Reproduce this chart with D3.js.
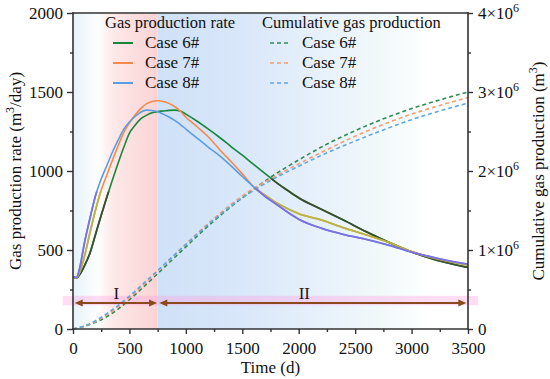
<!DOCTYPE html>
<html>
<head>
<meta charset="utf-8">
<script src="https://cdn.jsdelivr.net/npm/d3@7"></script>
<style>
body { margin: 0; background: #fff; }
svg { display: block; }
</style>
</head>
<body>
<svg id="chart" width="550" height="379"></svg>
<script>
// rate curves, m3/day
const rateDays = [0, 30, 60, 100, 150, 200, 250, 300, 350, 400, 450, 500, 550, 600, 650, 700, 750, 800, 850, 900,
    950, 1000, 1100, 1200, 1300, 1400, 1500, 1600, 1700, 1800, 1900, 2000, 2200, 2400, 2600, 2800, 3000, 3200, 3400, 3500];
const rateCase6 = [330, 322, 345, 398, 480, 600, 720, 835, 945, 1050, 1150, 1240, 1290, 1330, 1352, 1368, 1376, 1380, 1384, 1385,
    1380, 1360, 1315, 1265, 1212, 1155, 1100, 1042, 985, 928, 878, 830, 758, 688, 615, 548, 488, 440, 405, 390];
const rateCase7 = [330, 322, 360, 455, 610, 755, 880, 975, 1070, 1160, 1245, 1305, 1355, 1395, 1425, 1440, 1445, 1440, 1428, 1408,
    1380, 1340, 1280, 1215, 1135, 1060, 982, 900, 848, 800, 762, 730, 690, 640, 595, 548, 490, 448, 418, 405];
const rateCase8 = [330, 325, 388, 540, 700, 845, 950, 1035, 1120, 1195, 1265, 1310, 1345, 1372, 1385, 1383, 1375, 1360, 1342, 1320,
    1295, 1265, 1208, 1150, 1095, 1032, 965, 900, 840, 790, 740, 695, 638, 598, 567, 530, 487, 452, 422, 411];

// cumulative production, m3
const cumDays = [0, 100, 200, 300, 400, 500, 600, 750, 900, 1000, 1250, 1500, 1750, 2000, 2250, 2500, 2750, 3000, 3250, 3500];
const cumCase6 = [0, 34e3, 85e3, 157e3, 252e3, 370e3, 500e3, 700e3, 905e3, 1.04e6, 1.37e6, 1.66e6, 1.92e6, 2.14e6, 2.34e6, 2.51e6, 2.66e6, 2.79e6, 2.90e6, 3.0e6];
const cumCase7 = [0, 35e3, 95e3, 180e3, 280e3, 395e3, 525e3, 730e3, 940e3, 1.075e6, 1.40e6, 1.685e6, 1.90e6, 2.09e6, 2.27e6, 2.44e6, 2.59e6, 2.72e6, 2.83e6, 2.93e6];
const cumCase8 = [0, 37e3, 105e3, 195e3, 300e3, 415e3, 545e3, 740e3, 940e3, 1.07e6, 1.385e6, 1.66e6, 1.88e6, 2.06e6, 2.23e6, 2.38e6, 2.52e6, 2.65e6, 2.76e6, 2.86e6];

const caseNames = ["Case 6#", "Case 7#", "Case 8#"];
const xTicks = [0, 500, 1000, 1500, 2000, 2500, 3000, 3500];
const yLeftTicks = [0, 500, 1000, 1500, 2000];
const yRightTicks = [0, 1e6, 2e6, 3e6, 4e6];

// stages
const stageEdge = 750;
const stageArrows = [
    {label: "I", from: 15, to: 745, labelAt: 385},
    {label: "II", from: 765, to: 3485, labelAt: 2050}
];
const arrowLevel = 165;

const solidColors = ["#17873a", "#f58a4b", "#5b9de3"];
const shadeColors = ["#3c4f2c", "#b7b744", "#7d6fe4"];
const dashColors = ["#2f8a55", "#f59d72", "#5fa8e2"];

const serif = "Liberation Serif";

let svg = d3.select("#chart");
const plotLeft = 73, plotTop = 13, plotW = 395, plotH = 316;

let x = d3.scaleLinear().domain([0, 3500]).range([plotLeft, plotLeft + plotW]);
let yL = d3.scaleLinear().domain([0, 2000]).range([plotTop + plotH, plotTop]);
let yR = d3.scaleLinear().domain([0, 4e6]).range([plotTop + plotH, plotTop]);

function label(px, py, str, size) {
    return svg.append("text").attr("x", px).attr("y", py)
        .attr("font-size", size || 17)
        .style("font-family", serif).style("fill", "#111")
        .text(str);
}

let defs = svg.append("defs");

let g1 = defs.append("linearGradient").attr("id", "stage1")
    .attr("gradientUnits", "userSpaceOnUse")
    .attr("x1", x(0)).attr("x2", x(stageEdge)).attr("y1", 0).attr("y2", 0);
[[0, "#e6f3fa"], [0.3, "#fdfefe"], [0.48, "#fde8e8"], [1, "#fbd3d5"]].forEach(s => {
    g1.append("stop").attr("offset", s[0]).attr("stop-color", s[1]);
});
let g2 = defs.append("linearGradient").attr("id", "stage2")
    .attr("gradientUnits", "userSpaceOnUse")
    .attr("x1", x(stageEdge)).attr("x2", x(3500)).attr("y1", 0).attr("y2", 0);
[[0, "#cfe1f8"], [0.3, "#dae8fa"], [0.5, "#e6f0fb"], [0.72, "#f2f9fb"], [0.88, "#ffffff"], [1, "#ffffff"]].forEach(s => {
    g2.append("stop").attr("offset", s[0]).attr("stop-color", s[1]);
});

svg.append("rect")
    .attr("x", x(0)).attr("y", plotTop)
    .attr("width", x(stageEdge) - x(0)).attr("height", plotH)
    .attr("fill", "url(#stage1)");
svg.append("rect")
    .attr("x", x(stageEdge)).attr("y", plotTop)
    .attr("width", x(3500) - x(stageEdge)).attr("height", plotH)
    .attr("fill", "url(#stage2)");

// pink band behind the stage arrows
svg.append("rect")
    .attr("x", x(-90)).attr("y", yL(210))
    .attr("width", x(3590) - x(-90)).attr("height", yL(150) - yL(210))
    .attr("fill", "#ff9ee0").attr("opacity", 0.35);

// the zone where the rate lines look shaded in the original
let cumArea = d3.area()
    .x((d, i) => x(cumDays[i]))
    .y0(yR(0))
    .y1(d => yR(d))
    .curve(d3.curveMonotoneX);
let clip = defs.append("clipPath").attr("id", "lowZone");
clip.append("path").attr("d", cumArea(cumCase7));
clip.append("rect")
    .attr("x", x(0)).attr("y", yL(870))
    .attr("width", x(600) - x(0)).attr("height", yL(0) - yL(870));

let rateLine = d3.line()
    .x((d, i) => x(rateDays[i]))
    .y(d => yL(d))
    .curve(d3.curveMonotoneX);
let cumLine = d3.line()
    .x((d, i) => x(cumDays[i]))
    .y(d => yR(d))
    .curve(d3.curveMonotoneX);

let rates = [rateCase6, rateCase7, rateCase8];
let cums = [cumCase6, cumCase7, cumCase8];

cums.forEach((c, i) => {
    svg.append("path").attr("d", cumLine(c))
        .attr("fill", "none").attr("stroke", dashColors[i])
        .attr("stroke-width", 1.6).attr("stroke-dasharray", "4,3");
});

rates.forEach((r, i) => {
    svg.append("path").attr("d", rateLine(r))
        .attr("fill", "none").attr("stroke", solidColors[i]).attr("stroke-width", 1.6);
});
rates.forEach((r, i) => {
    svg.append("path").attr("d", rateLine(r))
        .attr("clip-path", "url(#lowZone)")
        .attr("fill", "none").attr("stroke", shadeColors[i]).attr("stroke-width", 1.8);
});

// stage arrows
const arrowColor = "#8a4a1e";
stageArrows.forEach(a => {
    let ay = yL(arrowLevel);
    let x1 = x(a.from), x2 = x(a.to);
    svg.append("line")
        .attr("x1", x1 + 6).attr("x2", x2 - 6).attr("y1", ay).attr("y2", ay)
        .attr("stroke", arrowColor).attr("stroke-width", 2);
    svg.append("path")
        .attr("d", `M${x1},${ay}L${x1 + 8},${ay - 3.5}L${x1 + 8},${ay + 3.5}Z`)
        .attr("fill", arrowColor);
    svg.append("path")
        .attr("d", `M${x2},${ay}L${x2 - 8},${ay - 3.5}L${x2 - 8},${ay + 3.5}Z`)
        .attr("fill", arrowColor);
    label(x(a.labelAt), yL(190), a.label)
        .attr("text-anchor", "middle").style("fill", "#2a1414");
});

// axes
const axisColor = "#333";
function styleAxis(sel) {
    sel.attr("font-family", null).attr("font-size", null);
    sel.select(".domain").remove();
    sel.selectAll("line").attr("stroke", axisColor).attr("stroke-width", 1.4);
    sel.selectAll("text").attr("font-size", 17).style("fill", "#111")
        .style("font-family", serif);
}

let minorX = d3.range(250, 3500, 500);
let minorY = d3.range(250, 2000, 500);
let minorR = d3.range(0.5e6, 4e6, 1e6);

let gx = svg.append("g").attr("transform", `translate(0,${plotTop + plotH})`)
    .call(d3.axisBottom(x).tickValues(xTicks).tickSize(5).tickPadding(8).tickFormat(d3.format("d")));
styleAxis(gx);
let gxm = svg.append("g").attr("transform", `translate(0,${plotTop + plotH})`)
    .call(d3.axisBottom(x).tickValues(minorX).tickSize(3).tickFormat(""));
styleAxis(gxm);

let gy = svg.append("g").attr("transform", `translate(${plotLeft},0)`)
    .call(d3.axisLeft(yL).tickValues(yLeftTicks).tickSize(6).tickPadding(4).tickFormat(d3.format("d")));
styleAxis(gy);
let gym = svg.append("g").attr("transform", `translate(${plotLeft},0)`)
    .call(d3.axisLeft(yL).tickValues(minorY).tickSize(3).tickFormat(""));
styleAxis(gym);

let gr = svg.append("g").attr("transform", `translate(${plotLeft + plotW},0)`)
    .call(d3.axisRight(yR).tickValues(yRightTicks).tickSize(5).tickFormat(""));
styleAxis(gr);
let grm = svg.append("g").attr("transform", `translate(${plotLeft + plotW},0)`)
    .call(d3.axisRight(yR).tickValues(minorR).tickSize(3).tickFormat(""));
styleAxis(grm);

yRightTicks.forEach(v => {
    let t = label(plotLeft + plotW + 10, yR(v), null).attr("dy", "0.35em");
    if (v === 0) {
        t.text("0");
    } else {
        t.append("tspan").text((v / 1e6) + "\u00d710");
        t.append("tspan").attr("font-size", 12).attr("dy", -7).text("6");
    }
});

// frame
let frame = [
    [x(0), yL(0), x(3500), yL(0)],
    [x(0), yL(2000), x(3500), yL(2000)],
    [x(0), yL(0), x(0), yL(2000)],
    [x(3500), yL(0), x(3500), yL(2000)]
];
frame.forEach(f => {
    svg.append("line")
        .attr("x1", f[0]).attr("y1", f[1]).attr("x2", f[2]).attr("y2", f[3])
        .attr("stroke", axisColor).attr("stroke-width", 1.6)
        .attr("stroke-linecap", "square");
});

// axis titles
label(x(1750), 373, "Time (d)").attr("text-anchor", "middle");

let lt = label(0, 0, null)
    .attr("transform", `translate(21,${yL(1000)}) rotate(-90)`)
    .attr("text-anchor", "middle");
lt.append("tspan").text("Gas production rate (m");
lt.append("tspan").attr("font-size", 12).attr("dy", -7).text("3");
lt.append("tspan").attr("dy", 7).text("/day)");

let rt = label(0, 0, null)
    .attr("transform", `translate(544,${yL(1000)}) rotate(-90)`)
    .attr("text-anchor", "middle");
rt.append("tspan").text("Cumulative gas production (m");
rt.append("tspan").attr("font-size", 12).attr("dy", -7).text("3");
rt.append("tspan").attr("dy", 7).text(")");

// legends
function legend(x0, title, colors, dashed) {
    label(x0, 28, title, 16.5);
    caseNames.forEach((name, i) => {
        let ly = 43 + i * 20;
        svg.append("line")
            .attr("x1", x0 + 8).attr("x2", x0 + 28).attr("y1", ly).attr("y2", ly)
            .attr("stroke", colors[i]).attr("stroke-width", dashed ? 1.6 : 2)
            .attr("stroke-dasharray", dashed ? "4,3" : null);
        label(x0 + 40, ly + 5, name);
    });
}
legend(105, "Gas production rate", solidColors, false);
legend(262, "Cumulative gas production", dashColors, true);
</script>
</body>
</html>
